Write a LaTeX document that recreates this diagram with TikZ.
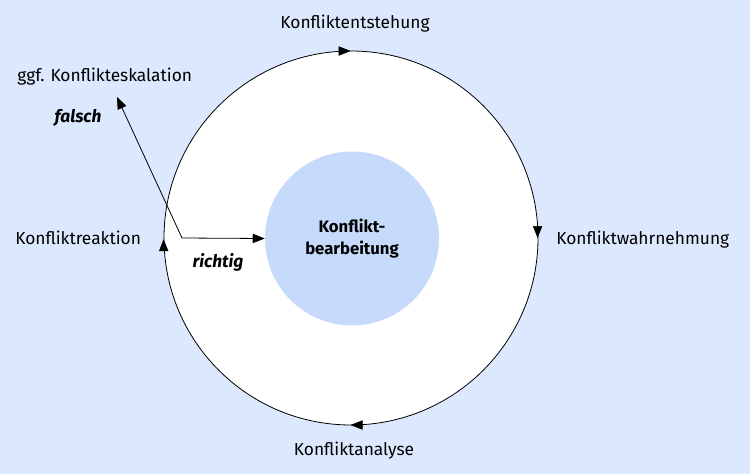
\documentclass[tikz,border=0pt]{standalone}
\usepackage{fontspec}
\setmainfont{Fira Sans}
\usetikzlibrary{arrows.meta,decorations.markings}
\definecolor{bg}{HTML}{DCE8FD}
\definecolor{inner}{HTML}{C6DAFB}
\tikzset{
  lbl/.style={font=\fontsize{13}{15}\selectfont, inner sep=0pt},
  emph/.style={font=\fontsize{13}{15}\selectfont\bfseries\itshape, inner sep=0pt},
  arr/.style={-{Triangle[length=9pt,width=7pt]}, line width=0.6pt},
}
\begin{document}
\begin{tikzpicture}[x=0.75pt,y=-0.75pt]
\fill[bg] (0,0) rectangle (750,474);
\useasboundingbox (0,0) rectangle (750,474);
\node[circle, draw=black, line width=0.6pt, fill=white, minimum size=374*0.75pt, inner sep=0pt] (outer) at (351,238) {};
\node[circle, fill=inner, minimum size=174*0.75pt, inner sep=0pt, align=center, font=\fontsize{12.5}{17}\selectfont\bfseries] (inner) at (352,238.5) {Konflikt-\\bearbeitung};
% direction arrowheads on outer circle (clockwise)
\path[decorate, decoration={markings,
  mark=at position 0.25 with {\arrow{Triangle[length=9pt,width=7pt]}},
  mark=at position 0.5 with {\arrow{Triangle[length=9pt,width=7pt]}},
  mark=at position 0.75 with {\arrow{Triangle[length=9pt,width=7pt]}},
  mark=at position 0.999 with {\arrow{Triangle[length=9pt,width=7pt]}}}]
  (outer.west) arc[start angle=180, end angle=-180, radius=187*0.75pt];
\node[lbl] (t1) at (355,24) {Konfliktentstehung};
\node[lbl, anchor=west] (t2) at (556,240) {Konfliktwahrnehmung};
\node[lbl] (t3) at (354,451) {Konfliktanalyse};
\node[lbl, anchor=west] (t4) at (15,238) {Konfliktreaktion};
\node[lbl, anchor=west] (t5) at (17,77) {ggf. Konflikteskalation};
\node[emph] (f) at (78,118) {falsch};
\node[emph] (r) at (218,262) {richtig};
\coordinate (corner) at (182,238);
\coordinate (up) at (117,97);
\draw[arr] (corner) -- (inner.west);
\draw[arr] (corner) -- (up);
\end{tikzpicture}
\end{document}
